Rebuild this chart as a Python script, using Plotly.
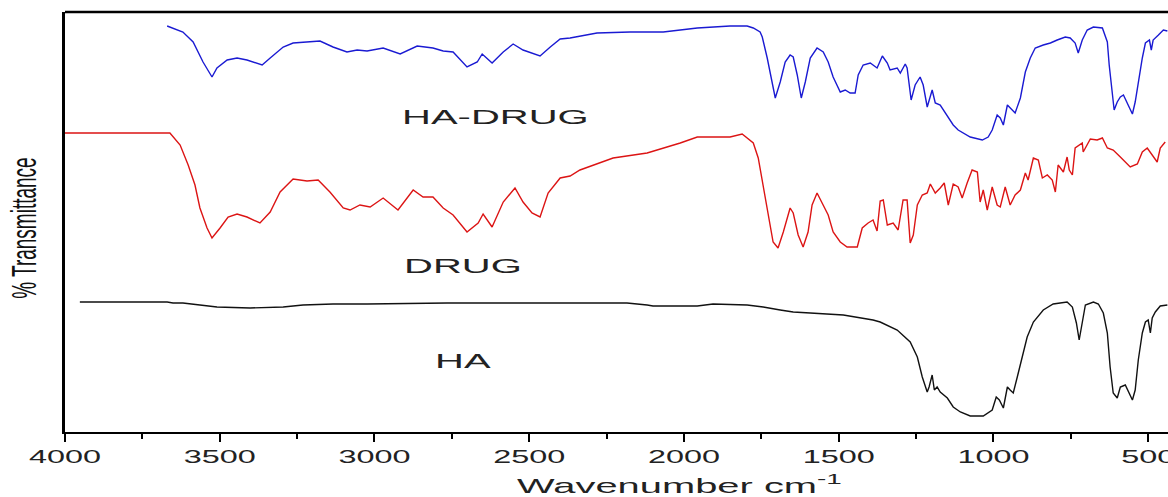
import plotly.graph_objects as go

# ---------------- data ----------------
HA_DRUG_WN = [3670, 3619, 3586, 3554, 3525, 3509, 3476, 3444, 3412, 3363, 3337, 3295, 3263, 3218, 3176, 3134,
              3089, 3056, 3024, 2972, 2917, 2862, 2811, 2778, 2746, 2701, 2668, 2652, 2620, 2584, 2552, 2520,
              2465, 2432, 2400, 2368, 2281, 2174, 2067, 1957, 1851, 1796, 1776, 1754, 1747, 1731, 1715, 1705,
              1689, 1673, 1657, 1647, 1634, 1621, 1608, 1592, 1570, 1550, 1534, 1518, 1495, 1479, 1463, 1447,
              1437, 1421, 1398, 1376, 1359, 1343, 1334, 1311, 1301, 1285, 1279, 1266, 1253, 1237, 1227, 1214,
              1198, 1188, 1172, 1156, 1130, 1114, 1075, 1036, 1017, 1004, 988, 978, 968, 955, 939, 930,
              913, 897, 881, 865, 839, 816, 794, 768, 752, 736, 726, 713, 697, 677, 648, 632,
              626, 616, 610, 600, 590, 580, 568, 551, 542, 532, 519, 509, 496, 490, 484, 467, 451, 438]
HA_DRUG_T = [406, 400, 390, 370, 355, 364, 372, 374, 372, 367, 374, 385, 389, 390, 391, 385,
             380, 382, 381, 384, 378, 386, 384, 381, 380, 365, 370, 378, 369, 380, 388, 382,
             376, 385, 393, 394, 399, 400, 400, 404, 406, 406, 404, 400, 395, 374, 350, 334,
             350, 370, 377, 375, 357, 334, 350, 374, 384, 380, 370, 355, 340, 342, 339, 339,
             357, 367, 369, 364, 376, 369, 362, 364, 359, 368, 364, 332, 347, 355, 347, 325,
             342, 329, 327, 319, 307, 302, 295, 292, 295, 302, 317, 314, 307, 327, 322, 319,
             334, 360, 374, 384, 387, 389, 392, 395, 394, 389, 379, 392, 402, 405, 404, 390,
             367, 340, 322, 330, 335, 337, 329, 318, 330, 350, 374, 389, 392, 382, 392, 397, 402, 401]

DRUG_WN = [4000, 3716, 3661, 3628, 3602, 3580, 3564, 3541, 3525, 3499, 3473, 3444, 3412, 3370, 3337, 3305,
           3263, 3218, 3182, 3144, 3101, 3079, 3047, 3014, 2972, 2924, 2875, 2843, 2811, 2778, 2746, 2701,
           2665, 2649, 2620, 2584, 2546, 2520, 2491, 2465, 2439, 2400, 2368, 2336, 2229, 2119, 2012, 1957,
           1851, 1812, 1776, 1760, 1744, 1728, 1712, 1696, 1679, 1657, 1647, 1631, 1615, 1599, 1586, 1570,
           1550, 1534, 1518, 1495, 1473, 1440, 1424, 1405, 1389, 1376, 1366, 1356, 1343, 1324, 1308, 1292,
           1279, 1269, 1259, 1246, 1230, 1214, 1204, 1188, 1172, 1159, 1146, 1130, 1114, 1101, 1085, 1069,
           1052, 1043, 1033, 1020, 1004, 988, 978, 962, 946, 930, 913, 897, 888, 871, 855, 842,
           826, 810, 800, 791, 774, 762, 755, 745, 736, 713, 710, 687, 665, 648, 632, 613,
           590, 558, 535, 519, 503, 487, 471, 461, 445]
DRUG_T = [299, 299, 299, 287, 267, 247, 224, 204, 194, 204, 215, 218, 215, 209, 220, 240,
          253, 251, 252, 240, 224, 222, 227, 225, 234, 222, 242, 235, 235, 224, 217, 200,
          209, 218, 205, 230, 244, 230, 219, 215, 239, 254, 256, 262, 274, 279, 289, 295,
          295, 298, 289, 274, 247, 217, 190, 184, 200, 224, 219, 197, 185, 200, 227, 239,
          227, 217, 200, 190, 185, 185, 204, 209, 212, 201, 231, 232, 207, 209, 202, 232,
          232, 189, 197, 227, 237, 239, 248, 239, 244, 249, 227, 248, 245, 234, 249, 262,
          260, 230, 242, 222, 245, 227, 225, 245, 227, 237, 242, 259, 252, 274, 272, 254,
          257, 252, 240, 267, 260, 275, 262, 257, 284, 289, 280, 293, 292, 294, 284, 282,
          275, 265, 268, 280, 284, 277, 270, 284, 290]

HA_WN = [3952, 3670, 3651, 3619, 3564, 3509, 3402, 3295, 3231, 3134, 3024, 2765, 2336, 2184, 2119, 2100,
         1957, 1906, 1796, 1744, 1689, 1647, 1592, 1485, 1389, 1366, 1311, 1269, 1246, 1230, 1214, 1208,
         1198, 1191, 1182, 1172, 1149, 1130, 1107, 1075, 1033, 1004, 991, 981, 968, 955, 946, 936,
         923, 907, 891, 871, 839, 807, 762, 745, 732, 723, 713, 703, 677, 661, 645, 632,
         623, 613, 600, 590, 574, 564, 551, 542, 532, 519, 509, 500, 493, 487, 477, 461, 438]
HA_T = [130, 130, 129, 129, 127, 125, 124, 125, 127, 128, 128, 129, 129, 129, 127, 126,
        126, 128, 127, 125, 122, 120, 119, 117, 112, 110, 102, 90, 75, 55, 40, 45,
        57, 42, 45, 40, 34, 25, 20, 16, 16, 22, 35, 32, 24, 45, 42, 39,
        55, 75, 95, 110, 122, 128, 130, 125, 109, 92, 109, 127, 130, 128, 119, 99,
        65, 39, 34, 45, 47, 40, 32, 42, 72, 99, 110, 112, 99, 114, 120, 126, 127]

TICK_VALUES = [4000, 3500, 3000, 2500, 2000, 1500, 1000, 500]
TICK_LABELS = ["4000", "3500", "3000", "2500", "2000", "1500", "1000", "500"]
MINOR_TICKS = [3750, 3250, 2750, 2250, 1750, 1250, 750]

LABELS = ["HA-DRUG", "DRUG", "HA"]
LABEL_WN = [2917, 2911, 2811]
LABEL_T = [315, 166, 71]

assert len(HA_DRUG_WN) == len(HA_DRUG_T)
assert len(DRUG_WN) == len(DRUG_T)
assert len(HA_WN) == len(HA_T)

# ---------------- figure ----------------
fig = go.Figure()
fig.add_trace(go.Scatter(x=HA_DRUG_WN, y=HA_DRUG_T, mode="lines", name="HA-DRUG",
                         line=dict(color="#1a1ad2", width=1.4)))
fig.add_trace(go.Scatter(x=DRUG_WN, y=DRUG_T, mode="lines", name="DRUG",
                         line=dict(color="#dc1414", width=1.4)))
fig.add_trace(go.Scatter(x=HA_WN, y=HA_T, mode="lines", name="HA",
                         line=dict(color="#111111", width=1.4)))

label_font = dict(family="Liberation Sans, Arial, sans-serif", size=20, color="#222222")
annotations = []
for txt, wx, ty in zip(LABELS, LABEL_WN, LABEL_T):
    annotations.append(dict(text=txt, x=wx, y=ty, xref="x", yref="y", xanchor="left",
                            yanchor="middle", showarrow=False, font=label_font))
annotations.append(dict(text="Wavenumber cm<sup>-1</sup>", x=0.5567, y=-0.124, xref="paper", yref="paper",
                        xanchor="center", yanchor="middle", showarrow=False,
                        font=dict(family="Liberation Sans, Arial, sans-serif", size=21, color="#222222")))
annotations.append(dict(text="% Transmittance", x=-0.0363, y=0.486, xref="paper", yref="paper",
                        xanchor="center", yanchor="middle", showarrow=False, textangle=-90,
                        font=dict(family="Liberation Sans, Arial, sans-serif", size=19, color="#111111")))

fig.update_layout(
    width=1168, height=497,
    margin=dict(l=65, r=0, t=12, b=65),
    plot_bgcolor="white", paper_bgcolor="white",
    showlegend=False,
    annotations=annotations,
    shapes=[dict(type="line", xref="paper", yref="paper", x0=0, x1=1, y0=1, y1=1,
                 line=dict(color="black", width=2.5))],
)
fig.update_xaxes(
    range=[4000, 436], tickmode="array", tickvals=TICK_VALUES, ticktext=TICK_LABELS,
    ticks="outside", ticklen=8, tickwidth=2, tickcolor="black",
    showline=True, linewidth=1.5, linecolor="black",
    showgrid=False, zeroline=False,
    minor=dict(tickmode="array", tickvals=MINOR_TICKS, ticks="outside", ticklen=5,
               tickwidth=2, tickcolor="black", showgrid=False),
    tickfont=dict(family="Liberation Sans, Arial, sans-serif", size=18, color="#222222"),
)
fig.update_yaxes(
    range=[0, 420], showline=True, linewidth=3, linecolor="black",
    showticklabels=False, ticks="", showgrid=False, zeroline=False,
)

# Remove the default page margin, and reproduce the horizontally stretched typography of the
# reference by scaling the real text nodes.
post_js = r"""
document.body.style.margin = '0';
document.body.style.padding = '0';
document.documentElement.style.overflow = 'hidden';
var gd = document.getElementById('{plot_id}');
function stretch(el, sx, sy, mode) {
  try {
    var b = el.getBBox();
    var cx = (mode === 'left') ? b.x : b.x + b.width / 2;
    var cy = b.y + b.height / 2;
    var tr = el.getAttribute('transform') || '';
    el.setAttribute('transform', tr + ' translate(' + cx + ',' + cy + ') scale(' + sx + ',' + sy +
                    ') translate(' + (-cx) + ',' + (-cy) + ')');
  } catch (e) {}
}
gd.querySelectorAll('.xtick text').forEach(function (t) { stretch(t, 1.8, 1, 'center'); });
gd.querySelectorAll('.annotation').forEach(function (a) {
  var t = a.querySelector('.annotation-text');
  if (!t) return;
  var idx = parseInt(a.getAttribute('data-index'), 10);
  if (idx <= 2) { stretch(t, 2.0, 1, 'left'); }
  else if (idx === 3) { stretch(t, 1.9, 1, 'center'); }
  else if (idx === 4) { stretch(t, 1, 1.8, 'center'); }
});
"""

fig.write_html("out.html", post_script=post_js,
               config={"displayModeBar": False, "staticPlot": True})
